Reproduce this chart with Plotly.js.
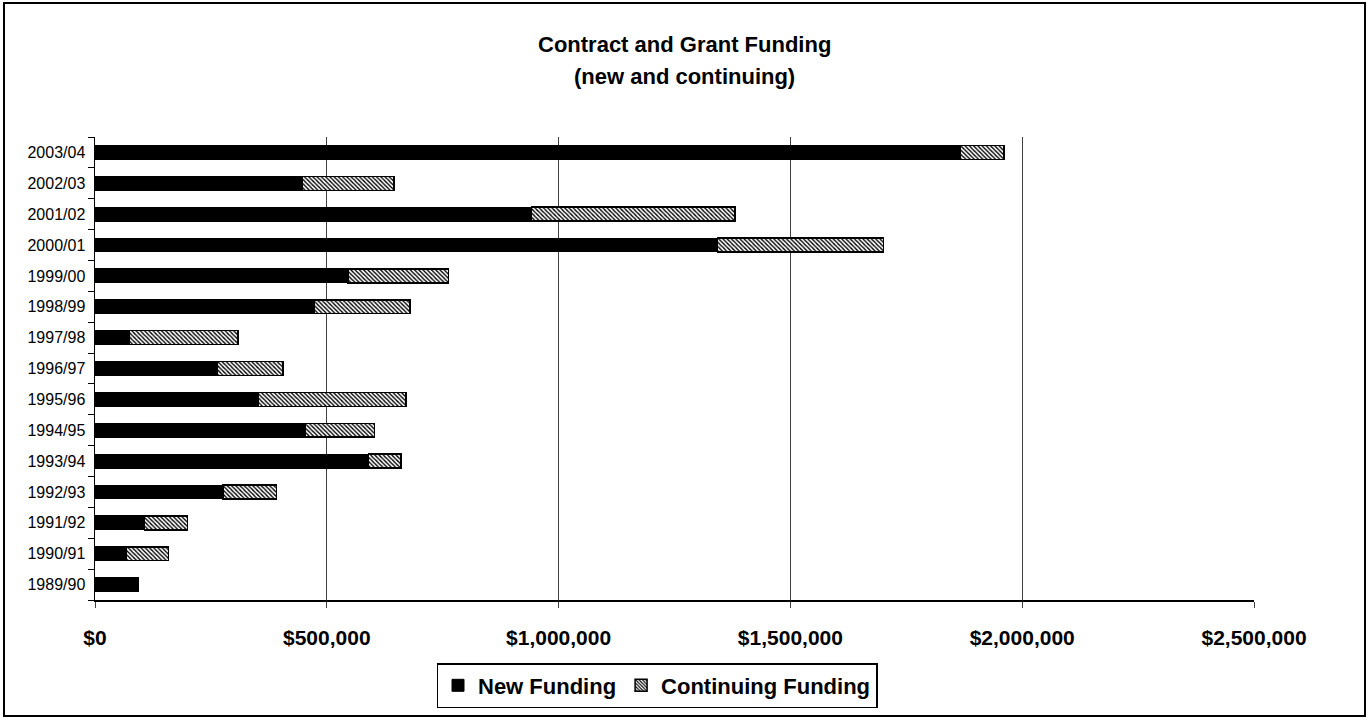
<!DOCTYPE html>
<html>
<head>
<meta charset="utf-8">
<script src="https://cdn.plot.ly/plotly-3.0.1.min.js"></script>
<style>
html,body{margin:0;padding:0;background:#fff;}
#chart{width:1369px;height:719px;}
</style>
</head>
<body>
<div id="chart"></div>
<script>
const years = ["1989/90","1990/91","1991/92","1992/93","1993/94","1994/95","1995/96","1996/97","1997/98","1998/99","1999/00","2000/01","2001/02","2002/03","2003/04"];
const newFunding = [94000,67000,107000,276000,590000,453000,353000,263000,73000,473000,546000,1343000,941000,446000,1867000];
const continuingFunding = [0,92000,92000,116000,70000,150000,318000,142000,235000,206000,216000,358000,440000,199000,94000];
const xTickValues = [0,500000,1000000,1500000,2000000,2500000];
const xTickLabels = ["$0","$500,000","$1,000,000","$1,500,000","$2,000,000","$2,500,000"];

const W = 1369, H = 719;
const L = 95, R = 1254, T = 137, B = 600;
const pw = R - L, ph = B - T;
const px = v => (v - L) / pw;
const py = v => (B - v) / ph;

const traces = [
  {
    type: 'bar', orientation: 'h', name: 'New Funding',
    y: years, x: newFunding,
    marker: {color: '#000000', line: {color: '#000000', width: 1}},
    hoverinfo: 'x+y'
  },
  {
    type: 'bar', orientation: 'h', name: 'Continuing Funding',
    y: years, x: continuingFunding,
    marker: {
      color: '#ffffff',
      line: {color: '#000000', width: 1.5},
      pattern: {shape: '\\', fgcolor: '#000000', bgcolor: '#ffffff', size: 3, solidity: 0.45}
    },
    hoverinfo: 'x+y'
  }
];

const layout = {
  width: W, height: H,
  margin: {l: L, r: W - R, t: T, b: H - B, pad: 0, autoexpand: false},
  paper_bgcolor: '#ffffff', plot_bgcolor: '#ffffff',
  barmode: 'stack',
  bargap: 0.55,
  font: {family: 'Arial, "Liberation Sans", sans-serif', color: '#000000'},
  showlegend: true,
  legend: {
    orientation: 'h', x: px(657), xanchor: 'center', y: py(663), yanchor: 'top',
    bordercolor: '#000000', borderwidth: 1.5, bgcolor: '#ffffff',
    font: {size: 22, weight: 'bold', color: '#000000'},
    traceorder: 'normal', itemclick: false, itemwidth: 30, tracegroupgap: 0
  },
  xaxis: {
    range: [0, 2500000], tickvals: xTickValues, ticktext: xTickLabels,
    showgrid: true, gridcolor: '#404040', gridwidth: 1,
    showline: true, linecolor: '#000000', linewidth: 1.5,
    ticks: 'outside', ticklen: 6, tickcolor: '#404040',
    tickfont: {size: 21, weight: 'bold', color: '#000000'},
    ticklabelstandoff: 12,
    zeroline: false, fixedrange: true, automargin: false
  },
  yaxis: {
    type: 'category', categoryorder: 'array', categoryarray: years,
    showgrid: false, showline: true, linecolor: '#000000', linewidth: 1.5,
    ticks: 'outside', ticklen: 6, tickcolor: '#000000', tickson: 'boundaries',
    tickfont: {size: 16, color: '#000000'},
    ticklabelstandoff: 5,
    zeroline: false, fixedrange: true, automargin: false
  },
  annotations: [
    {text: '<b>Contract and Grant Funding</b>', xref: 'paper', yref: 'paper', x: px(684), y: py(44),
     xanchor: 'center', yanchor: 'middle', showarrow: false, font: {size: 22, color: '#000000'}},
    {text: '<b>(new and continuing)</b>', xref: 'paper', yref: 'paper', x: px(684), y: py(77),
     xanchor: 'center', yanchor: 'middle', showarrow: false, font: {size: 22, color: '#000000'}}
  ],
  shapes: [
    {type: 'rect', xref: 'paper', yref: 'paper', x0: px(4), x1: px(1365), y0: py(716), y1: py(3),
     line: {color: '#000000', width: 2}, fillcolor: 'rgba(0,0,0,0)', layer: 'above'}
  ]
};

Plotly.newPlot('chart', traces, layout, {displayModeBar: false, staticPlot: true});
</script>
</body>
</html>
